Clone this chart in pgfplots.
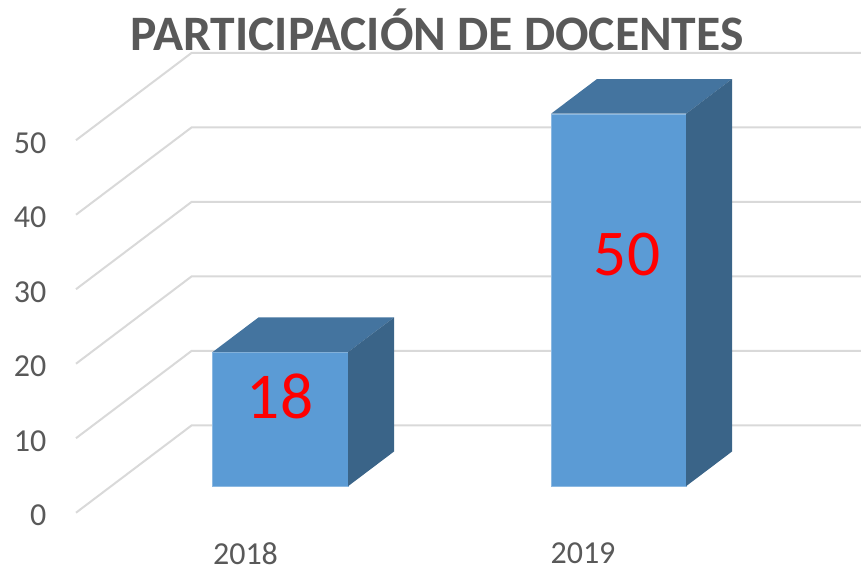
\documentclass[border=0pt]{standalone}
\usepackage{pgfplots}
\pgfplotsset{compat=1.18}
\usepackage{fontspec}
\setmainfont{Carlito}
\definecolor{txt}{HTML}{595959}
\definecolor{gridc}{HTML}{D9D9D9}
\definecolor{front}{HTML}{5B9BD5}
\definecolor{topc}{HTML}{44749F}
\definecolor{side}{HTML}{3A6488}
\begin{document}
\begin{tikzpicture}[x=0.75pt,y=0.75pt]
\useasboundingbox (-50,-36) rectangle (811,530);
\begin{axis}[
  at={(0,0)},anchor=south west,
  scale only axis,width=608.25pt,height=397.5pt,
  xmin=50,xmax=861,ymin=-2.32,ymax=68.82,
  axis line style={draw=none},
  major tick length=0pt,
  xtick={245.5,583},xticklabels={2018,2019},
  ytick={0,10,20,30,40,50},
  tick label style={text=txt,font=\fontsize{24}{28}\selectfont},
  xticklabel style={yshift=-6.2pt},
  yticklabel style={yshift=-2.2pt,xshift=0.7pt},
  /pgf/number format/assume math mode=true,
  clip=false,
  every axis plot/.append style={no markers},
]
% gridlines: side wall, then back wall
\addplot[gridc,line width=1.5pt] coordinates {(76,0)(191.7,11.73)(861,11.73)};
\addplot[gridc,line width=1.5pt] coordinates {(76,10)(191.7,21.73)(861,21.73)};
\addplot[gridc,line width=1.5pt] coordinates {(76,20)(191.7,31.73)(861,31.73)};
\addplot[gridc,line width=1.5pt] coordinates {(76,30)(191.7,41.73)(861,41.73)};
\addplot[gridc,line width=1.5pt] coordinates {(76,40)(191.7,51.73)(861,51.73)};
\addplot[gridc,line width=1.5pt] coordinates {(76,50)(191.7,61.73)(861,61.73)};
% 2018 = 18
\addplot[fill=front,draw=front!70!white,line width=0.3pt,y filter/.expression={y+3.55}] coordinates {(212.5,0)(212.5,18)(348,18)(348,0)} -- cycle;
\addplot[fill=topc,draw=none,y filter/.expression={y+3.55}] coordinates {(212.5,18)(258.5,22.66)(394,22.66)(348,18)} -- cycle;
\addplot[fill=side,draw=none,y filter/.expression={y+3.55}] coordinates {(348,0)(348,18)(394,22.66)(394,4.66)} -- cycle;
% 2019 = 50
\addplot[fill=front,draw=front!70!white,line width=0.3pt,y filter/.expression={y+3.55}] coordinates {(551,0)(551,50)(686,50)(686,0)} -- cycle;
\addplot[fill=topc,draw=none,y filter/.expression={y+3.55}] coordinates {(551,50)(597,54.66)(732,54.66)(686,50)} -- cycle;
\addplot[fill=side,draw=none,y filter/.expression={y+3.55}] coordinates {(686,0)(686,50)(732,54.66)(732,4.66)} -- cycle;
\node[text=red,font=\fontsize{49}{54}\selectfont] at (axis cs:280,15.6) {18};
\node[text=red,font=\fontsize{49}{54}\selectfont] at (axis cs:627,34.7) {50};
\node[text=txt,font=\fontsize{37.2}{42}\selectfont\bfseries] at (axis cs:437,64.75) {PARTICIPACIÓN DE DOCENTES};
\end{axis}
\end{tikzpicture}
\end{document}
